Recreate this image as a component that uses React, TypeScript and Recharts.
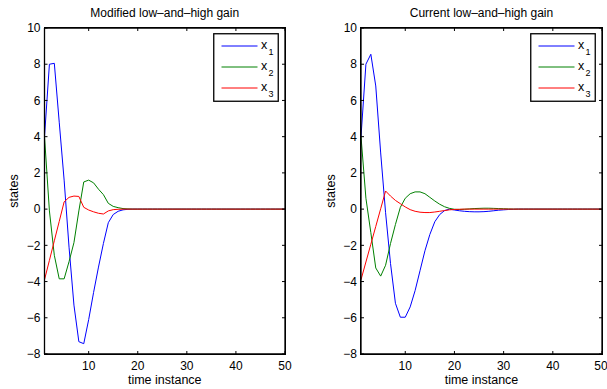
import React from 'react';
import { LineChart, Line, XAxis, YAxis, Legend } from 'recharts';

const time = [1, 2, 3, 4, 5, 6, 7, 8, 9, 10, 11, 12, 13, 14, 15, 16, 17, 18, 19, 20, 21, 22, 23, 24, 25, 26, 27, 28, 29, 30, 31, 32, 33, 34, 35, 36, 37, 38, 39, 40, 41, 42, 43, 44, 45, 46, 47, 48, 49, 50];

// Modified low-and-high gain
const modX1 = [4, 8.0, 8.05, 4.8, 1.6, -2.1, -5.3, -7.32, -7.43, -6.1, -4.6, -3.2, -1.9, -0.75, -0.3, -0.12, -0.04, -0.01, 0, 0, 0, 0, 0, 0, 0, 0, 0, 0, 0, 0, 0, 0, 0, 0, 0, 0, 0, 0, 0, 0, 0, 0, 0, 0, 0, 0, 0, 0, 0, 0];
const modX2 = [4, -0.1, -2.55, -3.85, -3.85, -2.9, -1.85, -0.1, 1.5, 1.6, 1.45, 1.1, 0.8, 0.32, 0.15, 0.08, 0.03, 0.01, 0, 0, 0, 0, 0, 0, 0, 0, 0, 0, 0, 0, 0, 0, 0, 0, 0, 0, 0, 0, 0, 0, 0, 0, 0, 0, 0, 0, 0, 0, 0, 0];
const modX3 = [-3.9, -2.83, -1.75, -0.68, 0.4, 0.65, 0.72, 0.7, 0.1, -0.05, -0.15, -0.23, -0.27, -0.1, -0.03, -0.01, 0, 0, 0, 0, 0, 0, 0, 0, 0, 0, 0, 0, 0, 0, 0, 0, 0, 0, 0, 0, 0, 0, 0, 0, 0, 0, 0, 0, 0, 0, 0, 0, 0, 0];

// Current low-and-high gain
const curX1 = [4, 8.0, 8.55, 6.8, 3.1, -0.2, -3.0, -5.2, -5.97, -5.97, -5.4, -4.5, -3.4, -2.3, -1.4, -0.7, -0.3, -0.08, 0, -0.05, -0.09, -0.12, -0.14, -0.15, -0.15, -0.14, -0.12, -0.09, -0.06, -0.04, -0.02, -0.01, 0, 0, 0, 0, 0, 0, 0, 0, 0, 0, 0, 0, 0, 0, 0, 0, 0, 0];
const curX2 = [4, 0.6, -1.3, -3.25, -3.7, -3.1, -1.9, -0.85, 0.1, 0.6, 0.85, 0.95, 0.95, 0.85, 0.65, 0.45, 0.27, 0.13, 0.04, -0.01, -0.02, -0.01, 0.01, 0.03, 0.04, 0.05, 0.05, 0.04, 0.03, 0.02, 0.01, 0, 0, 0, 0, 0, 0, 0, 0, 0, 0, 0, 0, 0, 0, 0, 0, 0, 0, 0];
const curX3 = [-3.9, -2.92, -1.94, -0.96, 0.02, 1.0, 0.72, 0.48, 0.3, 0.12, -0.03, -0.12, -0.17, -0.19, -0.19, -0.16, -0.12, -0.08, -0.04, -0.02, -0.01, 0, 0, 0, 0, 0, 0, 0, 0, 0, 0, 0, 0, 0, 0, 0, 0, 0, 0, 0, 0, 0, 0, 0, 0, 0, 0, 0, 0, 0];

const xTicks = [10, 20, 30, 40, 50];
const yTicks = [-8, -6, -4, -2, 0, 2, 4, 6, 8, 10];
const seriesKeys = ['x1', 'x2', 'x3'];
const seriesSubs = ['1', '2', '3'];
const colors = ['#0000ff', '#008000', '#ff0000'];
const titleLeft = 'Modified low\u2013and\u2013high gain';
const titleRight = 'Current low\u2013and\u2013high gain';
const xLabel = 'time instance';
const yLabel = 'states';

const FONT = '"Liberation Sans", Arial, Helvetica, sans-serif';

const buildRows = (a: number[], b: number[], c: number[]) =>
  time.map((t, i) => ({ t, x1: a[i], x2: b[i], x3: c[i] }));

const fmt = (v: number) => String(v).replace('-', '\u2212');
const blank = () => '';

function LegendBox() {
  return (
    <svg width={66} height={69} style={{ display: 'block' }}>
      <rect x={0.75} y={0.75} width={64.5} height={67.5} fill="#fff" stroke="#000" strokeWidth={1.3} />
      {seriesKeys.map((k, i) => {
        const cy = 13 + i * 21;
        return (
          <g key={k}>
            <line x1={8.5} x2={44.5} y1={cy} y2={cy} stroke={colors[i]} strokeWidth={1} />
            <text x={48} y={cy + 3} fontSize={12.5} fontFamily={FONT} fill="#000">x</text>
            <text x={55.5} y={cy + 9} fontSize={9} fontFamily={FONT} fill="#000">{seriesSubs[i]}</text>
          </g>
        );
      })}
    </svg>
  );
}

type PanelProps = {
  left: number;
  width: number;
  rows: any[];
  title: string;
  marginLeft: number;
  marginRight: number;
  yAxisWidth: number;
  yLabelOffset: number;
  legendLeft: number;
};

const MARGIN_TOP = 27;
const MARGIN_BOTTOM = 5;
const X_AXIS_H = 30;
const CHART_H = 389;

function Panel(p: PanelProps) {
  const tickStyle = { fontSize: 12, fill: '#000', fontFamily: FONT };
  const ts = -3;
  const line = { stroke: '#000', strokeWidth: 1.3 };
  const plotLeft = p.marginLeft + p.yAxisWidth;
  const plotRight = p.width - (p.marginRight - 1) - 1;
  const plotTop = MARGIN_TOP + 1;
  const plotBottom = CHART_H - MARGIN_BOTTOM - X_AXIS_H;
  return (
    <div style={{ position: 'absolute', left: p.left, top: 0, width: p.width, height: CHART_H, fontFamily: FONT, fontSize: 12 }}>
      <LineChart
        width={p.width}
        height={CHART_H}
        data={p.rows}
        margin={{ top: MARGIN_TOP, right: p.marginRight - 1, bottom: MARGIN_BOTTOM, left: p.marginLeft }}
      >
        <XAxis
          xAxisId="bottom"
          dataKey="t"
          type="number"
          domain={[1, 50]}
          ticks={xTicks}
          height={X_AXIS_H}
          stroke="#000"
          tickSize={ts}
          tickMargin={10}
          tick={tickStyle}
          axisLine={line}
          tickLine={{ stroke: '#000' }}
          label={{ value: xLabel, position: 'insideBottom', offset: 0, fontSize: 12.5, fill: '#000' }}
        />
        <XAxis
          xAxisId="top"
          orientation="top"
          dataKey="t"
          type="number"
          domain={[1, 50]}
          ticks={xTicks}
          height={1}
          stroke="#000"
          tickSize={ts}
          tickFormatter={blank}
          axisLine={line}
          tickLine={{ stroke: '#000' }}
          label={{ value: p.title, position: 'top', offset: 10, fontSize: 12, fill: '#000' }}
        />
        <YAxis
          yAxisId="left"
          dataKey="x1"
          type="number"
          domain={[-8, 10]}
          ticks={yTicks}
          width={p.yAxisWidth}
          stroke="#000"
          tickSize={ts}
          tickMargin={7}
          tick={tickStyle}
          tickFormatter={fmt}
          axisLine={line}
          tickLine={{ stroke: '#000' }}
          label={{ value: yLabel, angle: -90, position: 'insideLeft', offset: p.yLabelOffset, style: { textAnchor: 'middle' }, fontSize: 12.5, fill: '#000' }}
        />
        <YAxis
          yAxisId="right"
          orientation="right"
          type="number"
          domain={[-8, 10]}
          ticks={yTicks}
          width={1}
          stroke="#000"
          tickSize={ts}
          tickFormatter={blank}
          axisLine={line}
          tickLine={{ stroke: '#000' }}
        />
        <Legend
          layout="vertical"
          verticalAlign="middle"
          align="center"
          wrapperStyle={{ left: p.legendLeft, top: 33, width: 66, height: 69 }}
          content={() => <LegendBox />}
        />
        {seriesKeys.map((k, i) => (
          <Line
            key={k}
            xAxisId="top"
            yAxisId="right"
            dataKey={k}
            type="linear"
            stroke={colors[i]}
            strokeWidth={1}
            dot={false}
            activeDot={false}
            isAnimationActive={false}
          />
        ))}
      </LineChart>
      <div
        style={{
          position: 'absolute',
          left: plotLeft - 0.65,
          top: plotTop - 0.65,
          width: plotRight - plotLeft + 1.3,
          height: plotBottom - plotTop + 1.3,
          border: '1.3px solid #000',
          boxSizing: 'border-box',
          pointerEvents: 'none',
        }}
      />
    </div>
  );
}

export default function App() {
  const rowsMod = buildRows(modX1, modX2, modX3);
  const rowsCur = buildRows(curX1, curX2, curX3);
  return (
    <div style={{ position: 'absolute', left: 0, top: 0, width: 607, height: 389, background: '#fff', overflow: 'hidden' }}>
      <Panel left={0} width={300} rows={rowsMod} title={titleLeft} marginLeft={0.5} marginRight={15} yAxisWidth={44} yLabelOffset={13.5} legendLeft={212.5} />
      <Panel left={300} width={307} rows={rowsCur} title={titleRight} marginLeft={1} marginRight={5} yAxisWidth={60} yLabelOffset={30} legendLeft={229.5} />
    </div>
  );
}
